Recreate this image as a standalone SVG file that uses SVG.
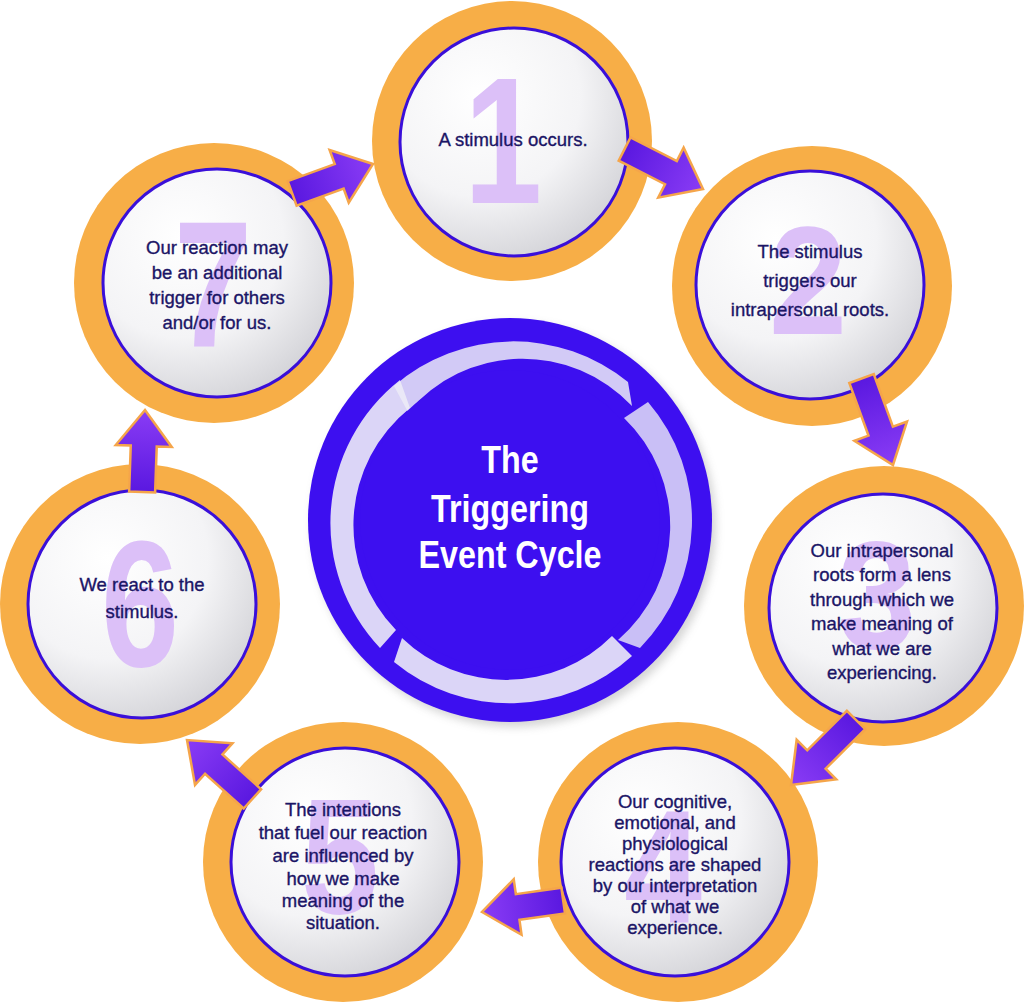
<svg xmlns="http://www.w3.org/2000/svg" width="1024" height="1006" viewBox="0 0 1024 1006">
<defs>
<radialGradient id="wg" cx="0.35" cy="0.3" r="0.8">
<stop offset="0" stop-color="#ffffff"/><stop offset="0.55" stop-color="#f4f4f6"/><stop offset="1" stop-color="#cfcfd4"/>
</radialGradient>
<linearGradient id="ag" x1="0" y1="0" x2="1" y2="0">
<stop offset="0" stop-color="#5a18e0"/><stop offset="1" stop-color="#8a3cf5"/>
</linearGradient>
<filter id="sh" x="-20%" y="-20%" width="140%" height="140%"><feGaussianBlur stdDeviation="4"/></filter>
</defs>
<style>
.ring{fill:#f7ae47}
.disc{fill:url(#wg);stroke:#3a0fd9;stroke-width:3}
.num{font-family:"Liberation Sans",Arial,sans-serif;font-weight:bold;font-size:180px;fill:#dcc0f8;text-anchor:middle}
.t{font-family:"Liberation Sans",Arial,sans-serif;font-size:18.5px;fill:#1b1566;text-anchor:middle;stroke:#1b1566;stroke-width:0.35}
.arr{fill:url(#ag);stroke:#f5a54a;stroke-width:2.5;stroke-linejoin:miter}
.title{font-family:"Liberation Sans",Arial,sans-serif;font-weight:bold;font-size:38px;fill:#ffffff;text-anchor:middle}
</style>
<rect width="1024" height="1006" fill="#ffffff"/>

<g id="center">
<circle cx="514" cy="525" r="202" fill="#888" opacity="0.35" filter="url(#sh)"/>
<circle cx="510" cy="520" r="202" fill="#3d0ff0"/>
<g fill="#ecebf7">
<path d="M 394 386 A 182 182 0 0 1 628 382 L 632 406 A 150 150 0 0 0 408 412 Z" opacity="0.85"/>
<path d="M 648 402 A 182 182 0 0 1 640 648 L 618 640 A 150 150 0 0 0 624 418 Z" opacity="0.8"/>
<path d="M 632 656 A 182 182 0 0 1 394 662 L 402 638 A 150 150 0 0 0 612 636 Z" opacity="0.9"/>
<path d="M 380 648 A 182 182 0 0 1 400 380 L 410 408 A 150 150 0 0 0 396 630 Z" opacity="0.9"/>
</g>
<circle cx="510" cy="520" r="150" fill="#3d0ff0"/>
<g transform="translate(510 0) scale(0.85 1)">
<text class="title" x="0" y="473">The</text>
<text class="title" x="0" y="522">Triggering</text>
<text class="title" x="0" y="568">Event Cycle</text>
</g>
</g>

<g id="node1"><circle class="ring" cx="512" cy="141" r="140"/><circle class="disc" cx="514" cy="142" r="114"/>
<text class="num" transform="translate(503 203) scale(0.78 1)">1</text><text class="t" x="513" y="146">A stimulus occurs.</text></g>

<g id="node2"><circle class="ring" cx="812" cy="286" r="140"/><circle class="disc" cx="810" cy="285" r="114"/>
<text class="num" transform="translate(808 334) scale(0.78 0.86)">2</text>
<text class="t" x="810" y="258">The stimulus</text><text class="t" x="810" y="287">triggers our</text><text class="t" x="810" y="316">intrapersonal roots.</text></g>

<g id="node3"><circle class="ring" cx="884" cy="606" r="140"/><circle class="disc" cx="883" cy="608" r="114"/>
<text class="num" transform="translate(877 648) scale(0.78 0.86)">3</text>
<text class="t" x="882" y="557">Our intrapersonal</text><text class="t" x="882" y="581">roots form a lens</text><text class="t" x="882" y="606">through which we</text><text class="t" x="882" y="630">make meaning of</text><text class="t" x="882" y="655">what we are</text><text class="t" x="882" y="679">experiencing.</text></g>

<g id="node4"><circle class="ring" cx="678" cy="862" r="140"/><circle class="disc" cx="675" cy="862" r="114"/>
<text class="num" transform="translate(663 923) scale(0.78 0.9)">4</text>
<text class="t" x="675" y="808">Our cognitive,</text><text class="t" x="675" y="829">emotional, and</text><text class="t" x="675" y="850">physiological</text><text class="t" x="675" y="871">reactions are shaped</text><text class="t" x="675" y="892">by our interpretation</text><text class="t" x="675" y="913">of what we</text><text class="t" x="675" y="934">experience.</text></g>

<g id="node5"><circle class="ring" cx="343" cy="862" r="140"/><circle class="disc" cx="345" cy="862" r="114"/>
<text class="num" transform="translate(340 913) scale(0.78 0.92)">5</text>
<text class="t" x="343" y="816">The intentions</text><text class="t" x="343" y="839">that fuel our reaction</text><text class="t" x="343" y="862">are influenced by</text><text class="t" x="343" y="885">how we make</text><text class="t" x="343" y="907">meaning of the</text><text class="t" x="343" y="929">situation.</text></g>

<g id="node6"><circle class="ring" cx="140" cy="604" r="140"/><circle class="disc" cx="142" cy="604" r="114"/>
<text class="num" transform="translate(140 666) scale(0.78 1)">6</text>
<text class="t" x="142" y="591">We react to the</text><text class="t" x="142" y="618">stimulus.</text></g>

<g id="node7"><circle class="ring" cx="214" cy="283" r="140"/><circle class="disc" cx="217" cy="283" r="114"/>
<text class="num" transform="translate(213 347) scale(0.78 1)">7</text>
<text class="t" x="217" y="254">Our reaction may</text><text class="t" x="217" y="279">be an additional</text><text class="t" x="217" y="304">trigger for others</text><text class="t" x="217" y="329">and/or for us.</text></g>

<g id="connectors">
<path class="arr" transform="translate(703,189) rotate(27)" d="M0 0 L-36 -28 L-36 -13 L-88 -13 L-88 13 L-36 13 L-36 28 Z"/>
<path class="arr" transform="translate(893,465) rotate(70)" d="M0 0 L-36 -28 L-36 -13 L-92 -13 L-92 13 L-36 13 L-36 28 Z"/>
<path class="arr" transform="translate(791,785) rotate(135)" d="M0 0 L-36 -28 L-36 -13 L-92 -13 L-92 13 L-36 13 L-36 28 Z"/>
<path class="arr" transform="translate(482,912) rotate(172)" d="M0 0 L-36 -28 L-36 -13 L-82 -13 L-82 13 L-36 13 L-36 28 Z"/>
<path class="arr" transform="translate(187,740) rotate(222)" d="M0 0 L-36 -28 L-36 -13 L-88 -13 L-88 13 L-36 13 L-36 28 Z"/>
<path class="arr" transform="translate(145,410) rotate(-88)" d="M0 0 L-36 -28 L-36 -13 L-82 -13 L-82 13 L-36 13 L-36 28 Z"/>
<path class="arr" transform="translate(373,164) rotate(-20)" d="M0 0 L-36 -28 L-36 -13 L-86 -13 L-86 13 L-36 13 L-36 28 Z"/>
</g>
</svg>
